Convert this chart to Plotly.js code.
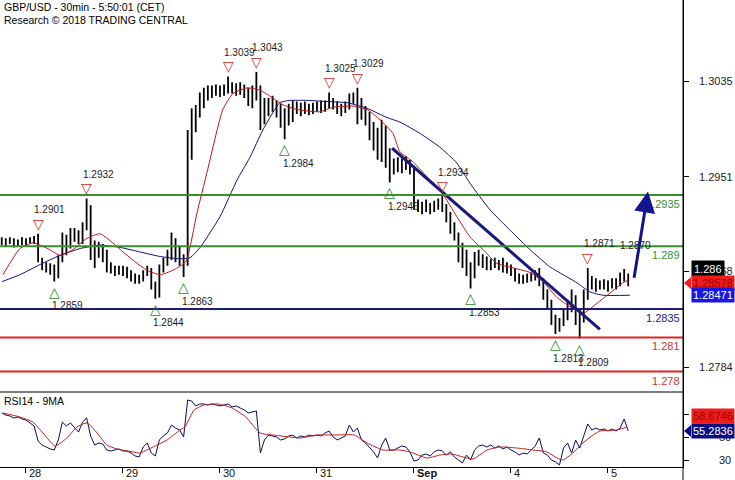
<!DOCTYPE html>
<html>
<head>
<meta charset="utf-8">
<script src="https://cdn.plot.ly/plotly-3.0.1.min.js"></script>
<style>html,body{margin:0;padding:0;background:#fff;}#chart{width:735px;height:480px;}</style>
</head>
<body>
<div id="chart"></div>
<script>
// ================= DATA =================
// hourly bars, hour 0 = 28 Aug 00:00 (weekend removed)
const firstBarHour = -6;
const barOpen = [
1.2895,1.2894,1.2895,1.2894,1.2893,1.2895,1.2894,1.2895,1.2893,1.2897,
1.2878,1.2873,1.2871,1.2869,1.2864,1.2880,1.2895,1.2892,1.2902,1.2899,
1.2895,1.2908,1.2922,1.2885,1.2888,1.2887,1.2881,1.2871,1.2869,1.2868,
1.2869,1.2867,1.2866,1.2862,1.2860,1.2861,1.2867,1.2869,1.2855,1.2848,
1.2871,1.2876,1.2881,1.2892,1.2885,1.2880,1.2876,1.2974,1.3001,1.3008,
1.3018,1.3023,1.3025,1.3027,1.3025,1.3027,1.3029,1.3031,1.3027,1.3029,
1.3027,1.3025,1.3018,1.3022,1.3029,1.3003,1.3011,1.3015,1.3013,1.3008,
1.3001,1.3006,1.3008,1.3011,1.3010,1.3011,1.3010,1.3010,1.3012,1.3013,
1.3011,1.3015,1.3018,1.3013,1.3010,1.3011,1.3013,1.3020,1.3022,1.3015,
1.3008,1.3001,1.2990,1.2981,1.2973,1.2992,1.2966,1.2959,1.2962,1.2960,
1.2964,1.2961,1.2957,1.2925,1.2924,1.2925,1.2923,1.2924,1.2926,1.2929,
1.2924,1.2915,1.2906,1.2899,1.2881,1.2878,1.2869,1.2866,1.2880,1.2876,
1.2878,1.2874,1.2876,1.2873,1.2874,1.2871,1.2869,1.2867,1.2862,1.2860,
1.2861,1.2862,1.2864,1.2866,1.2859,1.2846,1.2838,1.2825,1.2820,1.2823,
1.2829,1.2839,1.2843,1.2825,1.2827,1.2846,1.2859,1.2857,1.2855,1.2857,
1.2855,1.2858,1.2857,1.2859,1.2864,1.2862];
const barHigh = [
1.2898,1.2897,1.2898,1.2897,1.2896,1.2898,1.2897,1.2898,1.2899,1.2901,
1.2880,1.2876,1.2875,1.2874,1.2882,1.2902,1.2900,1.2906,1.2906,1.2904,
1.2911,1.2932,1.2926,1.2895,1.2894,1.2892,1.2887,1.2876,1.2873,1.2873,
1.2873,1.2872,1.2869,1.2866,1.2865,1.2869,1.2873,1.2871,1.2859,1.2874,
1.2880,1.2887,1.2902,1.2897,1.2890,1.2883,1.2992,1.3011,1.3014,1.3025,
1.3029,1.3031,1.3031,1.3032,1.3031,1.3032,1.3039,1.3034,1.3033,1.3034,
1.3032,1.3029,1.3031,1.3043,1.3031,1.3020,1.3020,1.3022,1.3018,1.3015,
1.3011,1.3015,1.3018,1.3017,1.3016,1.3017,1.3015,1.3016,1.3017,1.3018,
1.3018,1.3025,1.3020,1.3017,1.3015,1.3017,1.3024,1.3025,1.3029,1.3020,
1.3013,1.3008,1.2999,1.2994,1.3001,1.2996,1.2976,1.2967,1.2968,1.2967,
1.2969,1.2966,1.2959,1.2931,1.2929,1.2931,1.2928,1.2930,1.2932,1.2934,
1.2927,1.2920,1.2911,1.2902,1.2893,1.2887,1.2876,1.2885,1.2887,1.2883,
1.2881,1.2879,1.2880,1.2878,1.2880,1.2876,1.2874,1.2871,1.2866,1.2865,
1.2866,1.2867,1.2869,1.2871,1.2862,1.2852,1.2843,1.2830,1.2827,1.2834,
1.2843,1.2852,1.2847,1.2834,1.2852,1.2871,1.2864,1.2862,1.2860,1.2861,
1.2860,1.2862,1.2862,1.2867,1.2870,1.2866];
const barLow = [
1.2891,1.2890,1.2892,1.2889,1.2890,1.2891,1.2890,1.2892,1.2892,1.2876,
1.2869,1.2867,1.2865,1.2859,1.2862,1.2876,1.2882,1.2888,1.2894,1.2892,
1.2892,1.2904,1.2878,1.2871,1.2880,1.2876,1.2867,1.2866,1.2864,1.2865,
1.2864,1.2862,1.2859,1.2857,1.2857,1.2859,1.2864,1.2852,1.2844,1.2845,
1.2867,1.2873,1.2878,1.2876,1.2873,1.2863,1.2873,1.2966,1.2990,1.3003,
1.3011,1.3018,1.3020,1.3022,1.3021,1.3022,1.3024,1.3024,1.3022,1.3023,
1.3020,1.3013,1.3011,1.3018,1.2992,1.2997,1.3004,1.3008,1.3003,1.2994,
1.2984,1.2996,1.2999,1.3006,1.3004,1.3006,1.3005,1.3006,1.3008,1.3007,
1.3008,1.3011,1.3010,1.3006,1.3004,1.3007,1.3010,1.3015,1.2997,1.3001,
1.2996,1.2983,1.2974,1.2966,1.2964,1.2959,1.2946,1.2953,1.2955,1.2954,
1.2957,1.2953,1.2922,1.2920,1.2918,1.2920,1.2918,1.2920,1.2922,1.2920,
1.2911,1.2901,1.2895,1.2876,1.2871,1.2864,1.2853,1.2862,1.2873,1.2871,
1.2869,1.2869,1.2871,1.2869,1.2867,1.2866,1.2864,1.2859,1.2857,1.2857,
1.2858,1.2859,1.2860,1.2855,1.2843,1.2834,1.2821,1.2813,1.2815,1.2820,
1.2825,1.2832,1.2821,1.2809,1.2823,1.2843,1.2852,1.2850,1.2852,1.2852,
1.2850,1.2853,1.2852,1.2855,1.2859,1.2855];
const barClose = [
1.2894,1.2895,1.2894,1.2893,1.2895,1.2894,1.2895,1.2893,1.2897,1.2878,
1.2873,1.2871,1.2869,1.2864,1.2880,1.2895,1.2892,1.2902,1.2899,1.2895,
1.2908,1.2922,1.2885,1.2888,1.2887,1.2881,1.2871,1.2869,1.2868,1.2869,
1.2867,1.2866,1.2862,1.2860,1.2861,1.2867,1.2869,1.2855,1.2848,1.2871,
1.2876,1.2881,1.2892,1.2885,1.2880,1.2876,1.2974,1.3001,1.3008,1.3018,
1.3023,1.3025,1.3027,1.3025,1.3027,1.3029,1.3031,1.3027,1.3029,1.3027,
1.3025,1.3018,1.3022,1.3029,1.3003,1.3011,1.3015,1.3013,1.3008,1.3001,
1.3006,1.3008,1.3011,1.3010,1.3011,1.3010,1.3010,1.3012,1.3013,1.3011,
1.3015,1.3018,1.3013,1.3010,1.3011,1.3013,1.3020,1.3022,1.3015,1.3008,
1.3001,1.2990,1.2981,1.2973,1.2992,1.2966,1.2959,1.2962,1.2960,1.2964,
1.2961,1.2957,1.2925,1.2924,1.2925,1.2923,1.2924,1.2926,1.2929,1.2924,
1.2915,1.2906,1.2899,1.2881,1.2878,1.2869,1.2866,1.2880,1.2876,1.2878,
1.2874,1.2876,1.2873,1.2874,1.2871,1.2869,1.2867,1.2862,1.2860,1.2861,
1.2862,1.2864,1.2866,1.2859,1.2846,1.2838,1.2825,1.2820,1.2823,1.2829,
1.2839,1.2843,1.2825,1.2827,1.2846,1.2859,1.2857,1.2855,1.2857,1.2855,
1.2858,1.2857,1.2859,1.2864,1.2862,1.2858];

// price moving averages (hour, price)
const maFastHours = [-5.7,-1.5,1.7,3.5,5.9,8.4,11.6,15.1,18.3,20.8,24.0,27.5,29.9,33.2,36.4,38.8,39.8,42.3,44.8,48.7,51.2,54.7,57.9,61.1,63.6,67.1,72.7,76.0,80.9,84.4,87.6,90.8,92.5,95.8,99.2,102.9,106.6,109.9,113.1,116.5,120.5,124.7,127.9,131.4,134.6,137.8,141.3,144.5,147.7,148.9];
const maFastValues = [1.2865,1.2888,1.2893,1.2891,1.2887,1.2882,1.2887,1.2897,1.2901,1.2895,1.2885,1.2875,1.2869,1.2865,1.2869,1.2874,1.2878,1.2919,1.2955,1.3010,1.3024,1.3029,1.3027,1.3020,1.3014,1.3010,1.3008,1.3012,1.3013,1.3010,1.3001,1.2989,1.2973,1.2964,1.2951,1.2937,1.2916,1.2898,1.2887,1.2875,1.2871,1.2867,1.2859,1.2845,1.2837,1.2831,1.2840,1.2849,1.2858,1.2860];
const maSlowHours = [-5.9,-1.5,3.5,8.4,13.4,18.3,23.3,28.2,33.2,38.1,40.6,43.1,48.0,52.2,55.4,58.6,62.8,65.3,69.5,74.5,79.4,84.4,89.3,92.5,97.5,102.4,106.6,109.9,114.8,119.8,124.7,129.6,132.9,136.3,139.5,142.8,149.4];
const maSlowValues = [1.2859,1.2865,1.2874,1.2882,1.2888,1.2891,1.2889,1.2885,1.2881,1.2879,1.2880,1.2889,1.2916,1.2948,1.2968,1.2992,1.3016,1.3018,1.3018,1.3017,1.3016,1.3011,1.3003,1.2999,1.2989,1.2977,1.2963,1.2945,1.2922,1.2904,1.2887,1.2872,1.2865,1.2858,1.2850,1.2847,1.2847];

// RSI14 (hourly, same bars) and its 9MA
const rsiValues = [
70.9,69.1,68.3,66.5,67.4,65.7,64.8,62.2,59.6,46.5,
43.0,41.3,39.6,38.7,47.4,63.0,59.6,62.2,57.8,54.3,
63.0,66.5,50.9,43.0,44.8,43.9,38.7,37.8,38.7,39.6,
37.8,37.8,36.1,33.5,32.6,41.3,44.8,36.1,33.5,47.4,
50.9,53.5,60.4,57.8,56.1,50.0,82.2,81.3,77.0,78.7,
78.7,77.8,78.7,77.8,77.0,77.8,78.7,76.1,77.0,75.2,
73.5,70.9,71.7,72.6,36.1,47.4,51.7,50.9,50.0,47.4,
48.3,50.9,51.7,49.1,50.9,50.0,51.7,50.9,51.7,50.9,
53.5,55.2,50.0,47.4,49.1,50.9,60.4,54.3,57.8,47.4,
44.8,41.3,37.0,31.7,43.0,49.1,38.7,38.7,40.4,42.2,
41.3,37.0,29.1,30.0,34.3,35.2,33.5,37.0,38.7,37.8,
34.3,37.0,32.6,30.0,27.4,34.3,30.0,38.7,42.2,43.0,
41.3,43.0,40.4,42.2,39.6,41.3,38.7,37.0,34.3,36.1,
35.2,38.7,42.2,49.1,36.1,34.3,30.0,28.3,25.7,40.4,
44.8,36.1,47.4,40.4,50.0,61.3,56.1,57.8,56.1,57.0,
55.2,57.0,55.2,57.8,65.7,55.3];
const rsiMaHours = [-5.7,-1.5,1.7,4.2,7.2,10.1,12.6,15.1,17.6,20.0,22.5,26.5,28.2,32.4,34.9,38.1,39.3,41.6,44.0,47.5,51.0,54.4,57.9,61.1,65.3,67.8,72.0,76.5,81.2,84.4,88.3,92.5,95.0,99.2,102.4,105.4,108.1,110.6,114.1,117.3,121.5,125.4,128.9,131.4,132.9,135.3,137.8,140.3,142.0,146.2,148.7];
const rsiMaValues = [70.9,67.4,63.0,53.5,42.2,49.1,58.7,62.2,53.5,43.0,39.6,37.0,36.1,43.0,47.4,56.1,58.7,73.5,77.8,78.7,75.2,67.4,53.5,51.7,50.0,49.1,51.7,51.7,51.7,44.8,38.7,38.7,37.0,31.7,34.3,35.2,32.6,30.9,38.7,41.3,40.4,38.7,37.0,31.7,30.0,36.1,44.8,51.7,55.2,56.1,58.7];

// axes
const dayTickHours = [0,24,48,72,96,120,144];
const dayTickLabels = ['28','29','30','31','<b>Sep</b>','4','5'];
const priceTicks = [1.3035,1.2951,1.2868,1.2784];
const rsiTicks = [30,50,70];

// analysis overlays
const levelPrices = [1.2935,1.289,1.2835,1.281,1.278];
const levelLabels = ['1.2935','1.289','1.2835','1.281','1.278'];
const peakHours = [3,15,50,57,75,82,103,139];
const peakPrices = [1.2901,1.2932,1.3039,1.3043,1.3025,1.3029,1.2934,1.2871];
const troughHours = [7,32,39,64,90,110,131,137];
const troughPrices = [1.2859,1.2844,1.2863,1.2984,1.2946,1.2853,1.2813,1.2809];
const lastHighHour = [148];
const lastHighPrice = [1.2870];
const trendHours = [90.6,142.0];
const trendPrices = [1.2976,1.2817];
const arrowHours = [150.4,153.9];
const arrowPrices = [1.2861,1.2938];
const lastClose = 1.28578;
const lastSlowMa = 1.28471;
const boxPrice = 1.286;
const rsiLast = 55.2836;
const rsiMaLast = 58.6746;

// ================= STYLE / LAYOUT =================
const FONT = 'Liberation Sans, Arial, sans-serif';
const levelColors = ['#3b8e2e','#3b8e2e','#1c1c80','#e02424','#e02424'];
const levelTextColors = ['#3b8e2e','#3b8e2e','#1c1c80','#d83030','#d83030'];
const PLOT_W = 683, PLOT_H = 467, SPLIT = 392;
const yMainRange = [1.27621, 1.31061];
const yRsiRange = [23.91, 89.13];
const splitPaper = (PLOT_H - SPLIT) / PLOT_H;
const xp = px => px / PLOT_W;
const yp = py => (PLOT_H - py) / PLOT_H;
const pyMain = p => (yMainRange[1] - p) / (yMainRange[1] - yMainRange[0]) * SPLIT;
const pyRsi = v => SPLIT + (yRsiRange[1] - v) / (yRsiRange[1] - yRsiRange[0]) * (PLOT_H - SPLIT);

const barHours = barOpen.map((_, i) => firstBarHour + i);

const traces = [
  {type:'ohlc', x:barHours, open:barOpen, high:barHigh, low:barLow, close:barClose,
   xaxis:'x', yaxis:'y', tickwidth:0.2, hoverinfo:'skip',
   increasing:{line:{color:'#000', width:1.8}}, decreasing:{line:{color:'#000', width:1.8}}},
  {type:'scatter', mode:'lines', x:maSlowHours, y:maSlowValues, yaxis:'y',
   line:{color:'#10107a', width:1, shape:'spline', smoothing:0.5}, hoverinfo:'skip'},
  {type:'scatter', mode:'lines', x:maFastHours, y:maFastValues, yaxis:'y',
   line:{color:'#c01818', width:1, shape:'spline', smoothing:0.5}, hoverinfo:'skip'},
  {type:'scatter', mode:'lines', x:trendHours, y:trendPrices, yaxis:'y',
   line:{color:'#1a1a78', width:3}, hoverinfo:'skip'},
  {type:'scatter', mode:'lines', x:barHours, y:rsiValues, yaxis:'y2',
   line:{color:'#0a0a60', width:1}, hoverinfo:'skip'},
  {type:'scatter', mode:'lines', x:rsiMaHours, y:rsiMaValues, yaxis:'y2',
   line:{color:'#c02020', width:1, shape:'spline', smoothing:0.5}, hoverinfo:'skip'}
];

const shapes = [];
levelPrices.forEach((p, i) => shapes.push({type:'line', xref:'paper', x0:0, x1:1, yref:'y', y0:p, y1:p,
  line:{color:levelColors[i], width:2}}));
shapes.push({type:'line', xref:'paper', x0:0, x1:1, yref:'paper', y0:splitPaper, y1:splitPaper, line:{color:'#000', width:1}});
shapes.push({type:'line', xref:'paper', x0:1, x1:1, yref:'paper', y0:yp(480), y1:1, line:{color:'#000', width:1}});
function pointer(py, color) {
  return {type:'path', xref:'paper', yref:'paper', fillcolor:color, line:{width:0},
    path:`M ${xp(684)} ${yp(py)} L ${xp(691)} ${yp(py-6)} L ${xp(691)} ${yp(py+6)} Z`};
}
shapes.push(pointer(pyMain(lastClose), '#ee1c1c'));
shapes.push(pointer(pyRsi(rsiLast), '#0c0c80'));

const ann = [];
ann.push({xref:'paper', yref:'paper', x:0, y:1, xanchor:'left', yanchor:'top', xshift:2, yshift:1, showarrow:false,
  text:'GBP/USD - 30min - 5:50:01 (CET)', font:{family:FONT, size:10.5, color:'#000'}});
ann.push({xref:'paper', yref:'paper', x:0, y:1, xanchor:'left', yanchor:'top', xshift:2, yshift:-12, showarrow:false,
  text:'Research © 2018 TRADING CENTRAL', font:{family:FONT, size:10.5, color:'#000'}});
ann.push({xref:'paper', yref:'paper', x:0, y:splitPaper, xanchor:'left', yanchor:'top', xshift:2, yshift:-1, showarrow:false,
  text:'RSI14 - 9MA', font:{family:FONT, size:10.5, color:'#000'}});
levelPrices.forEach((p, i) => ann.push({xref:'paper', x:1, xanchor:'right', xshift:-1, yref:'y', y:p, yanchor:'top', yshift:-1,
  showarrow:false, text:levelLabels[i], font:{family:FONT, size:11, color:levelTextColors[i]}}));
peakHours.forEach((h, i) => {
  ann.push({x:h, y:peakPrices[i], xref:'x', yref:'y', showarrow:false, text:'▽', yshift:10,
    font:{family:'DejaVu Sans', size:14, color:'#cc2a2a'}});
  ann.push({x:h, y:peakPrices[i], xref:'x', yref:'y', showarrow:false, text:peakPrices[i].toFixed(4),
    xanchor:'left', xshift:-6, yshift:24, font:{family:FONT, size:10, color:'#1a1a1a'}});
});
lastHighHour.forEach((h, i) => ann.push({x:h, y:lastHighPrice[i], xref:'x', yref:'y', showarrow:false,
  text:lastHighPrice[i].toFixed(4), xanchor:'left', xshift:-6, yshift:24, font:{family:FONT, size:10, color:'#1a1a1a'}}));
troughHours.forEach((h, i) => {
  ann.push({x:h, y:troughPrices[i], xref:'x', yref:'y', showarrow:false, text:'△', yshift:-10,
    font:{family:'DejaVu Sans', size:14, color:'#2a8a2a'}});
  ann.push({x:h, y:troughPrices[i], xref:'x', yref:'y', showarrow:false, text:troughPrices[i].toFixed(4),
    xanchor:'left', xshift:-4, yshift:-24, font:{family:FONT, size:10, color:'#1a1a1a'}});
});
ann.push({xref:'x', yref:'y', axref:'x', ayref:'y', x:arrowHours[1], y:arrowPrices[1], ax:arrowHours[0], ay:arrowPrices[0],
  showarrow:true, text:'', arrowhead:2, arrowsize:1.4, arrowwidth:3, arrowcolor:'#14148c', standoff:0, startstandoff:0});
dayTickHours.forEach((h, i) => ann.push({x:h, xref:'x', yref:'paper', y:0, xanchor:'left', yanchor:'top', xshift:1, yshift:2,
  showarrow:false, text:dayTickLabels[i], font:{family:FONT, size:11, color:'#111'}}));
priceTicks.forEach(p => ann.push({xref:'paper', x:1, xanchor:'left', xshift:14, yref:'y', y:p, showarrow:false,
  text:p.toFixed(4), font:{family:FONT, size:11, color:'#222'}}));
rsiTicks.forEach(v => ann.push({xref:'paper', x:1, xanchor:'right', xshift:50, yref:'y2', y:v, showarrow:false,
  text:String(v), font:{family:FONT, size:11, color:'#222'}}));
ann.push({xref:'paper', x:xp(691), xanchor:'left', yref:'y', y:boxPrice, yshift:pyMain(boxPrice)-269, showarrow:false,
  text:boxPrice.toFixed(3), bgcolor:'#000', borderpad:2, font:{family:FONT, size:11, color:'#fff'}});
ann.push({xref:'paper', x:xp(691), xanchor:'left', yref:'y', y:lastClose, showarrow:false,
  text:lastClose.toFixed(5), bgcolor:'#ee1c1c', borderpad:1, font:{family:FONT, size:11, color:'#a00000'}});
ann.push({xref:'paper', x:xp(691), xanchor:'left', yref:'y', y:lastSlowMa, showarrow:false,
  text:lastSlowMa.toFixed(5), bgcolor:'#1818e0', borderpad:1, font:{family:FONT, size:11, color:'#fff'}});
ann.push({xref:'paper', x:xp(691), xanchor:'left', yref:'y2', y:rsiMaLast, yshift:11, showarrow:false,
  text:rsiMaLast.toFixed(4), bgcolor:'#ee1c1c', borderpad:1, font:{family:FONT, size:11, color:'#a00000'}});
ann.push({xref:'paper', x:xp(691), xanchor:'left', yref:'y2', y:rsiLast, showarrow:false,
  text:rsiLast.toFixed(4), bgcolor:'#0c0c80', borderpad:1, font:{family:FONT, size:11, color:'#fff'}});

const axisCommon = {showgrid:false, zeroline:false, showline:true, linecolor:'#000', linewidth:1,
  ticks:'outside', ticklen:5, tickcolor:'#000', tickwidth:1, showticklabels:false, fixedrange:true};

const layout = {
  width:735, height:480, margin:{l:0, r:52, t:0, b:13, pad:0},
  paper_bgcolor:'#fff', plot_bgcolor:'#fff', showlegend:false, hovermode:false, dragmode:false,
  font:{family:FONT, size:11, color:'#000'},
  xaxis:Object.assign({}, axisCommon, {range:[-6.43,162.56], anchor:'y2', tickvals:dayTickHours, rangeslider:{visible:false}}),
  yaxis:Object.assign({}, axisCommon, {domain:[splitPaper,1], range:yMainRange, side:'right', anchor:'x', tickvals:priceTicks}),
  yaxis2:Object.assign({}, axisCommon, {domain:[0,splitPaper], range:yRsiRange, side:'right', anchor:'x', tickvals:rsiTicks}),
  shapes:shapes, annotations:ann
};

Plotly.newPlot('chart', traces, layout, {staticPlot:true, displayModeBar:false});
</script>
</body>
</html>
